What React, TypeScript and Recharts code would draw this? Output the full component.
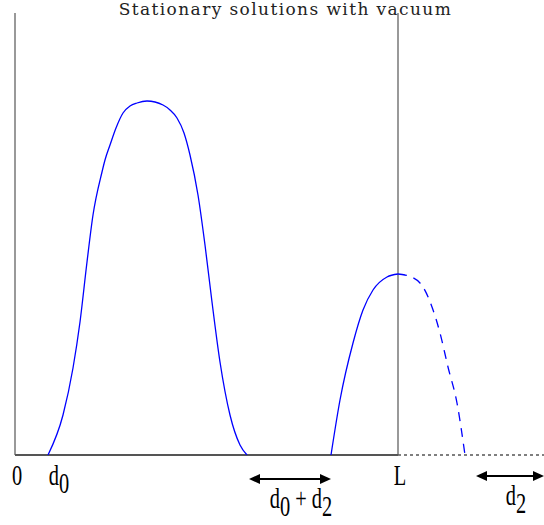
import { LineChart, Line, XAxis, YAxis, ReferenceLine } from 'recharts';

// positions in picture units: x from the left axis, y above the baseline
const L = 383;
const X_MAX = 529;
const Y_MAX = 442;

const hump1X = [33, 48, 58, 65, 72, 78, 87, 90, 95, 101, 108, 115, 122, 132, 148, 155, 162, 169, 175, 183, 190, 197, 205, 215, 225, 232];
const hump1Y = [0, 40, 87, 133, 193, 240, 283, 295, 310, 327, 342, 349, 352, 354, 350, 345, 337, 322, 300, 260, 210, 153, 93, 40, 10, 0];

const hump2X = [316, 325, 338, 348, 358, 372, 383];
const hump2Y = [0, 55, 112, 145, 165, 178, 181];

const extX = [383, 390, 405, 417, 425, 433, 442, 450];
const extY = [181, 180, 172, 148, 122, 88, 52, 0];

const tickVals = [0, 33, L];
const tickNames = ['0', 'd0', 'L'];
const tickShift = [2, 11, 2];

const toPts = (xs: number[], ys: number[]) => xs.map((x, i) => ({ x, y: ys[i] }));

const FONT = 'Liberation Serif, serif';

function Sub({ base, sub }: { base: string; sub: string }) {
  return (
    <>
      {base}
      <tspan dy={8}>{sub}</tspan>
      <tspan dy={-8}></tspan>
    </>
  );
}

const Tick = (props: any) => {
  const { x, y, payload, index } = props;
  const name = tickNames[index] ?? String(payload.value);
  return (
    <g transform={`translate(${x + tickShift[index]},${y + 22})`}>
      <text transform="scale(0.68,1)" textAnchor="middle" fontFamily={FONT} fontSize={30} fill="#000">
        {name.length > 1 ? <Sub base={name[0]} sub={name.slice(1)} /> : name}
      </text>
    </g>
  );
};

// double headed arrow with a label under it
const arrowShape = (label: React.ReactNode, shift: number) => (props: any) => {
  const { x1, y1, x2, y2 } = props;
  const h = 5;
  const w = 11;
  const cx = (x1 + x2) / 2 + shift;
  return (
    <g>
      <line x1={x1 + 4} y1={y1} x2={x2 - 4} y2={y2} stroke="#000" strokeWidth={2} />
      <polygon points={`${x1},${y1} ${x1 + w},${y1 - h} ${x1 + w},${y1 + h}`} fill="#000" />
      <polygon points={`${x2},${y2} ${x2 - w},${y2 - h} ${x2 - w},${y2 + h}`} fill="#000" />
      <g transform={`translate(${cx},${y1 + 29})`}>
        <text transform="scale(0.68,1)" textAnchor="middle" fontFamily={FONT} fontSize={30} fill="#000">
          {label}
        </text>
      </g>
    </g>
  );
};

export default function App() {
  return (
    <div style={{ position: 'absolute', left: 0, top: 0, width: 544, height: 525, background: '#fff' }}>
      <div
        style={{
          position: 'absolute',
          left: 0,
          width: 571,
          top: 0,
          lineHeight: '18px',
          textAlign: 'center',
          fontFamily: 'DejaVu Serif, serif',
          fontSize: 17,
          letterSpacing: 1.4,
          color: '#222',
          zIndex: 2,
          pointerEvents: 'none',
        }}
      >
        Stationary solutions with vacuum
      </div>
      <LineChart width={544} height={525} margin={{ top: 13, right: 0, left: 15, bottom: 0 }}>
        <XAxis
          type="number"
          dataKey="x"
          domain={[0, X_MAX]}
          ticks={tickVals}
          tick={<Tick />}
          axisLine={false}
          tickLine={false}
          height={70}
          interval={0}
          allowDataOverflow
        />
        <YAxis type="number" dataKey="y" domain={[0, Y_MAX]} hide allowDataOverflow />

        <ReferenceLine x={0} stroke="#777" strokeWidth={1.5} />
        <ReferenceLine x={L} stroke="#777" strokeWidth={1.5} />
        <ReferenceLine segment={[{ x: 0, y: 0 }, { x: L, y: 0 }]} stroke="#555" strokeWidth={2} />
        <ReferenceLine
          segment={[{ x: L, y: 0 }, { x: X_MAX, y: 0 }]}
          stroke="#555"
          strokeWidth={1.5}
          strokeDasharray="3 3"
        />

        <Line data={toPts(hump1X, hump1Y)} dataKey="y" type="monotone" stroke="#0000ff" strokeWidth={1.3} dot={false} isAnimationActive={false} />
        <Line data={toPts(hump2X, hump2Y)} dataKey="y" type="monotone" stroke="#0000ff" strokeWidth={1.3} dot={false} isAnimationActive={false} />
        <Line
          data={toPts(extX, extY)}
          dataKey="y"
          type="monotone"
          stroke="#0000ff"
          strokeWidth={1.3}
          strokeDasharray="9 7"
          dot={false}
          isAnimationActive={false}
        />

        <ReferenceLine
          segment={[{ x: 234, y: -24 }, { x: 316, y: -24 }]}
          ifOverflow="visible"
          shape={arrowShape(
            <>
              d<tspan dy={8}>0</tspan>
              <tspan dy={-8}> + d</tspan>
              <tspan dy={8}>2</tspan>
            </>,
            11
          )}
        />
        <ReferenceLine
          segment={[{ x: 461, y: -21 }, { x: X_MAX, y: -21 }]}
          ifOverflow="visible"
          shape={arrowShape(
            <>
              d<tspan dy={8}>2</tspan>
            </>,
            6
          )}
        />
      </LineChart>
    </div>
  );
}
